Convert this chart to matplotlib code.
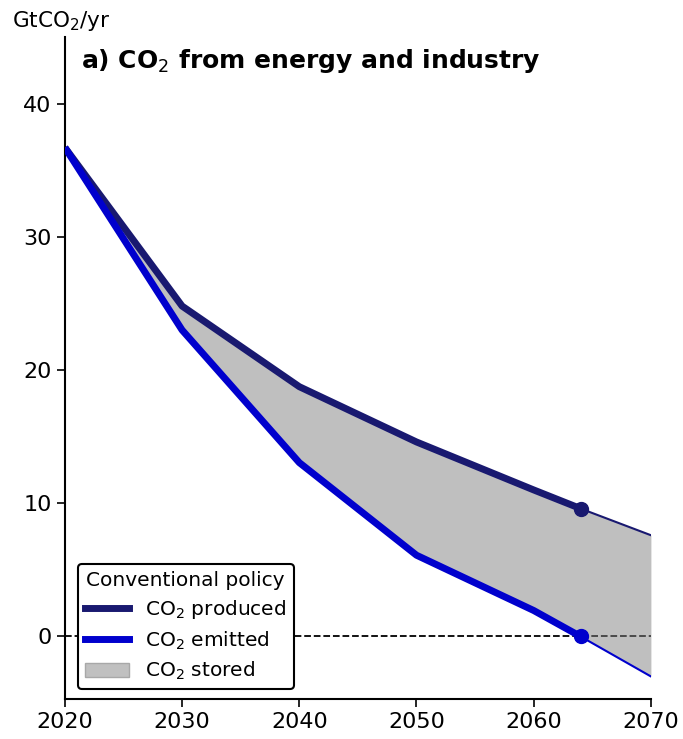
import matplotlib.pyplot as plt
from matplotlib.lines import Line2D
from matplotlib.patches import Patch

# pathway to the net-zero year (thick), then extrapolation to 2070 (thin)
years = [2020, 2030, 2040, 2050, 2060, 2064]
produced = [36.7, 24.8, 18.75, 14.6, 11.0, 9.6]
emitted = [36.7, 23.0, 13.05, 6.1, 1.95, 0.0]
years_ext = [2064, 2070]
produced_ext = [9.6, 7.6]
emitted_ext = [0.0, -3.0]

c_prod = '#191970'
c_emit = '#0000cd'

fig = plt.figure(figsize=(6.83, 7.39), dpi=100)
ax = fig.add_axes([0.095, 0.054, 0.858, 0.896])

ax.plot([2020, 2070], [0, 0], ls='--', color='black', lw=1.3, zorder=1)

all_years = years + years_ext[1:]
ax.fill_between(all_years, produced + produced_ext[1:], emitted + emitted_ext[1:],
                color='gray', alpha=0.5, lw=0, zorder=2)

ax.plot(years, produced, color=c_prod, lw=5, zorder=3, solid_capstyle='butt')
ax.plot(years, emitted, color=c_emit, lw=5, zorder=3, solid_capstyle='butt')
ax.plot(years_ext, produced_ext, color=c_prod, lw=1.5, zorder=3)
ax.plot(years_ext, emitted_ext, color=c_emit, lw=1.5, zorder=3)
ax.plot(years[-1], produced[-1], 'o', color=c_prod, ms=10, zorder=4)
ax.plot(years[-1], emitted[-1], 'o', color=c_emit, ms=10, zorder=4)

ax.set_xlim(2020, 2070)
ax.set_ylim(-4.7, 45)
ax.set_xticks([2020, 2030, 2040, 2050, 2060, 2070])
ax.set_yticks([0, 10, 20, 30, 40])
ax.tick_params(labelsize=16, length=6, width=1.2)
for s in ['top', 'right']:
    ax.spines[s].set_visible(False)
for s in ['left', 'bottom']:
    ax.spines[s].set_linewidth(1.5)

ax.text(0.028, 0.985, r'a) CO$_2$ from energy and industry', transform=ax.transAxes,
        fontsize=18, fontweight='bold', va='top', ha='left')
fig.text(0.017, 0.988, r'GtCO$_2$/yr', fontsize=15.5, va='top', ha='left')

handles = [Line2D([], [], color=c_prod, lw=5),
           Line2D([], [], color=c_emit, lw=5),
           Patch(facecolor='#c0c0c0', edgecolor='#a8a8a8')]
labels = [r'CO$_2$ produced', r'CO$_2$ emitted', r'CO$_2$ stored']
leg = ax.legend(handles, labels, title='Conventional policy', loc='lower left',
                fontsize=14.5, title_fontsize=14.5, frameon=True, fancybox=True,
                bbox_to_anchor=(0.005, 0.0), borderaxespad=0.5,
                handlelength=2.2, labelspacing=0.4, borderpad=0.35)
leg.get_frame().set_edgecolor('black')
leg.get_frame().set_linewidth(1.5)
leg.get_frame().set_alpha(1)

fig.savefig('out.png')
